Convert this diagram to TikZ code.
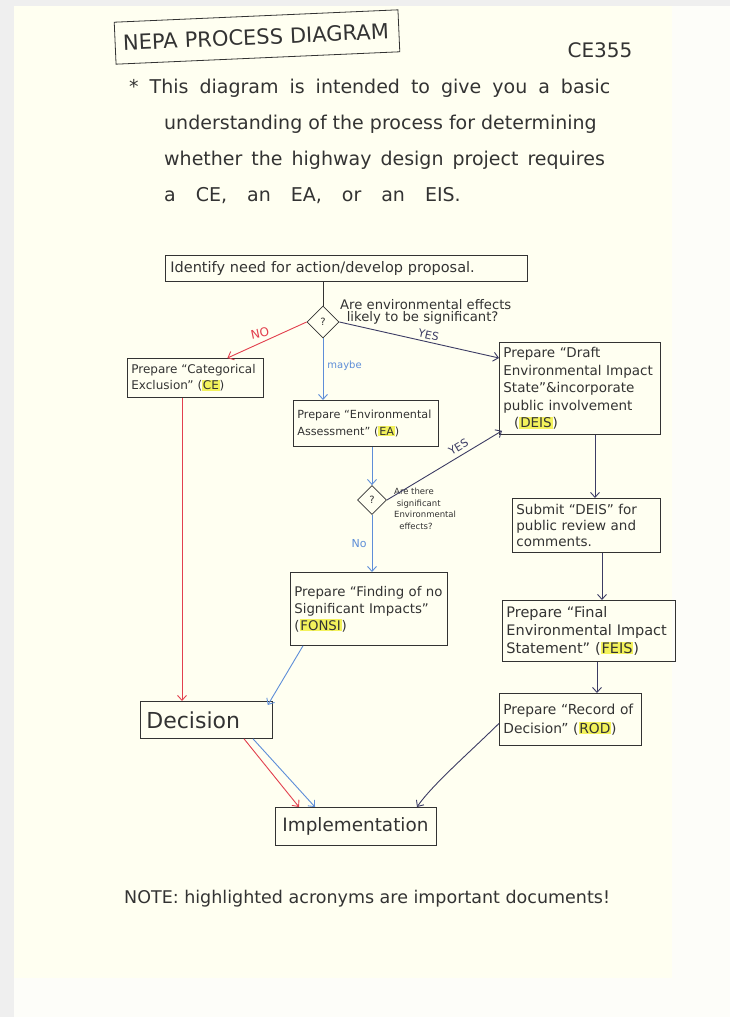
\documentclass[tikz,border=0pt]{standalone}
\usepackage{fontspec}
\setmainfont{DejaVu Sans}
\usetikzlibrary{shapes.geometric,arrows.meta,calc}
\definecolor{ink}{HTML}{333333}
\definecolor{navy}{HTML}{3C3C64}
\definecolor{pred}{HTML}{E2404E}
\definecolor{pblue}{HTML}{5E8ED8}
\definecolor{hly}{HTML}{F3F25C}
\definecolor{paper}{HTML}{FFFFF1}
\definecolor{lightpaper}{HTML}{FDFDF9}
\definecolor{outerbg}{HTML}{EFEFEF}
\newcommand\fsz[2]{\fontsize{#1}{#2}\selectfont}
\newcommand\hl[1]{{\setlength{\fboxsep}{0.8pt}\colorbox{hly}{#1}}}
\begin{document}
\begin{tikzpicture}[x=1pt,y=-1pt,
  box/.style={draw=ink, line width=0.8pt, anchor=north west, inner xsep=4pt, inner ysep=0pt, align=left, text=ink},
  lbl/.style={inner sep=1pt, text=ink},
  dia/.style={diamond, draw=ink, line width=0.8pt, inner sep=0pt, text=ink, font=\fsz{10}{12}},
  arr/.style={line width=0.9pt, -{Straight Barb[length=5pt,width=9pt]}},
  link/.style={line width=0.9pt},
]
\useasboundingbox (0,0) rectangle (730,1017);
% paper
\fill[outerbg] (0,0) rectangle (730,1017);
\fill[paper] (14,6) rectangle (672,978);
\fill[lightpaper] (672,6) rectangle (730,1017);
\fill[lightpaper] (14,978) rectangle (672,1017);

% heading
\node[box, rotate=2.5, anchor=center, minimum width=284, minimum height=42, text width=268, inner xsep=8pt, font=\fsz{21}{24}] (title) at (257,37) {NEPA PROCESS DIAGRAM};
\node[lbl, font=\fsz{20}{24}] (course) at (600,50) {CE355};

\node[lbl, anchor=base west, font=\fsz{19}{22}] (p1) at (128,93) {\spaceskip=11pt * This diagram is intended to give you a basic};
\node[lbl, anchor=base west, font=\fsz{19}{22}] (p2) at (163,129) {understanding of the process for determining};
\node[lbl, anchor=base west, font=\fsz{19}{22}] (p3) at (163,165) {\spaceskip=9pt whether the highway design project requires};
\node[lbl, anchor=base west, font=\fsz{19}{22}] (p4) at (163,201) {\spaceskip=20pt a CE, an EA, or an EIS.};

% flow nodes
\node[box, minimum width=362, text width=352, minimum height=26, font=\fsz{14.5}{17}] (idbox) at (165,255) {Identify need for action/develop proposal.};

\node[dia, minimum width=32, minimum height=32] (d1) at (323,322) {?};
\node[lbl, anchor=north west, align=left, font=\fsz{13.2}{12.5}] (q1) at (339,298) {Are environmental effects\\\hspace{0.5em}likely to be significant?};

\node[box, minimum width=136, text width=128, minimum height=39, font=\fsz{12}{16}] (ce) at (127,358) {Prepare “Categorical\\Exclusion” (\hl{CE})};

\node[box, minimum width=145, text width=137, minimum height=46, font=\fsz{11.2}{17}] (ea) at (293,400) {Prepare “Environmental\\Assessment” (\hl{EA})};

\node[box, minimum width=161, text width=153, minimum height=92, font=\fsz{13.5}{17.5}] (deis) at (499,342) {Prepare “Draft\\Environmental Impact\\State”\&incorporate\\public involvement\\\hspace{0.8em}(\hl{DEIS})};

\node[dia, minimum width=29, minimum height=29] (d2) at (372,500) {?};
\node[lbl, anchor=north west, align=left, font=\fsz{8.5}{11.5}] (q2) at (393,487) {Are there\\\hspace{0.3em}significant\\Environmental\\\hspace{0.6em}effects?};

\node[box, minimum width=157, text width=149, minimum height=73, font=\fsz{13.3}{17}] (fonsi) at (290,572) {Prepare “Finding of no\\Significant Impacts”\\(\hl{FONSI})};

\node[box, minimum width=148, text width=140, minimum height=54, font=\fsz{13.5}{16}] (submit) at (512,498) {Submit “DEIS” for\\public review and\\comments.};

\node[box, minimum width=173, text width=165, minimum height=61, font=\fsz{14.5}{18}] (feis) at (502,600) {Prepare “Final\\Environmental Impact\\Statement” (\hl{FEIS})};

\node[box, minimum width=142, text width=134, minimum height=52, font=\fsz{13.8}{19}] (rod) at (499,693) {Prepare “Record of\\Decision” (\hl{ROD})};

\node[box, minimum width=132, text width=120, minimum height=37, inner xsep=6pt, font=\fsz{22}{24}] (decision) at (140,701) {Decision};

\node[box, minimum width=161, text width=147, minimum height=38, inner xsep=7pt, font=\fsz{18.4}{20}] (impl) at (275,807) {Implementation};

\node[lbl, anchor=base west, font=\fsz{17.5}{20}] (note) at (123,903) {NOTE: highlighted acronyms are important documents!};

% helper x positions
\coordinate (xA) at (182,0);
\coordinate (xB) at (595,0);
\coordinate (xC) at (602,0);
\coordinate (xD) at (597,0);
\coordinate (xE) at (244,0);
\coordinate (xF) at (299,0);
\coordinate (xG) at (253,0);
\coordinate (xH) at (315,0);
\coordinate (xI) at (417,0);

% connectors
\draw[link, ink] (idbox.south -| d1.north) -- (d1.north);
\draw[arr, pred] (d1.west) -- ([xshift=32pt]ce.north);
\node[lbl, text=pred, rotate=12, font=\fsz{12}{14}] (nolbl) at (260,333) {NO};
\draw[arr, navy] (d1.east) -- ([yshift=-16pt]deis.north west)
  node[lbl, text=navy, pos=0.55, above=1pt, sloped, font=\fsz{11}{13}] (yes1) {YES};
\draw[arr, pblue] (d1.south) -- (d1.south |- ea.north)
  node[lbl, text=pblue, pos=0.45, right=3pt, font=\fsz{10}{12}] (maybe) {maybe};
\draw[arr, pblue] (ea.south -| d2.north) -- (d2.north);
\draw[arr, navy] (d2.east) -- ([xshift=3pt,yshift=4pt]deis.south west)
  node[lbl, text=navy, pos=0.66, above=3pt, sloped, font=\fsz{11}{13}] (yes2) {YES};
\draw[arr, pblue] (d2.south) -- (d2.south |- fonsi.north)
  node[lbl, text=pblue, pos=0.5, left=4pt, font=\fsz{11}{13}] (nolbl2) {No};
\draw[arr, navy] (deis.south -| xB) -- (submit.north -| xB);
\draw[arr, navy] (submit.south -| xC) -- (feis.north -| xC);
\draw[arr, navy] (feis.south -| xD) -- (rod.north -| xD);
\draw[arr, pred] (ce.south -| xA) -- (decision.north -| xA);
\draw[arr, pblue] ([xshift=13pt]fonsi.south west) -- ([xshift=-5pt,yshift=-4pt]decision.north east);
\draw[arr, pred] (decision.south -| xE) -- (impl.north -| xF);
\draw[arr, pblue] (decision.south -| xG) -- (impl.north -| xH);
\draw[arr, navy] ([yshift=-4pt]rod.west) .. controls (470,752) and (432,785) .. (impl.north -| xI);
\end{tikzpicture}
\end{document}
